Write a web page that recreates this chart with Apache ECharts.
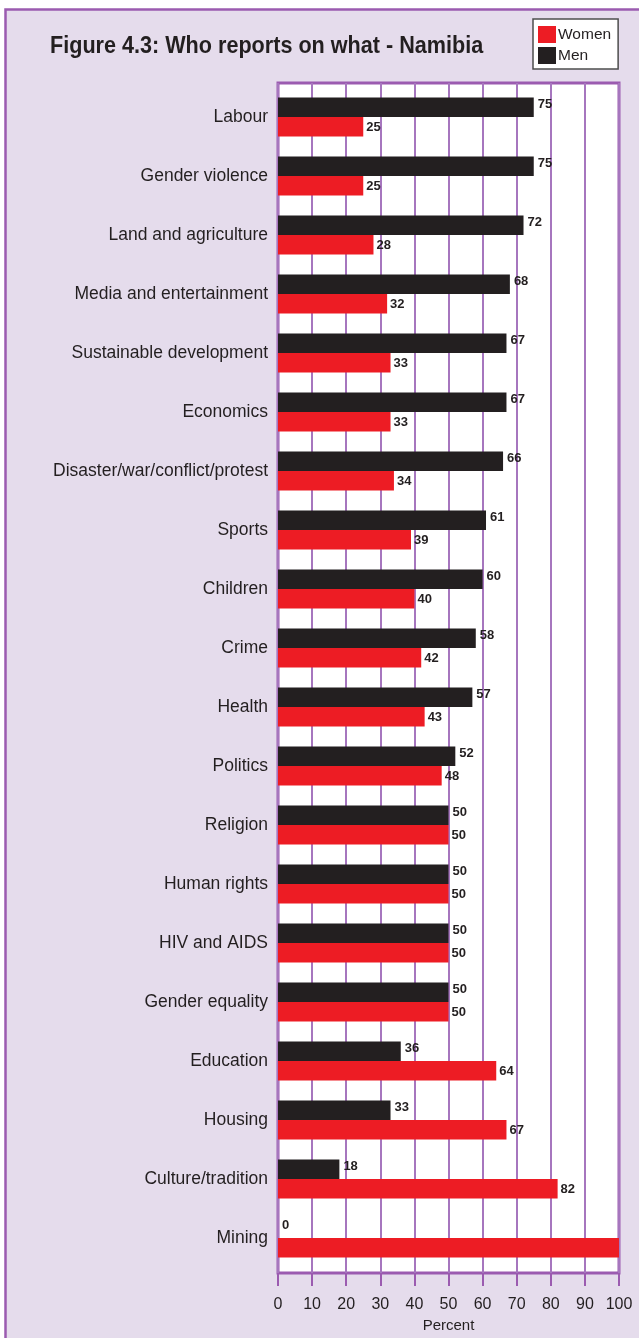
<!DOCTYPE html>
<html><head><meta charset="utf-8">
<script src="https://cdn.jsdelivr.net/npm/echarts@6/dist/echarts.min.js"></script>
<style>html,body{margin:0;padding:0;background:#fff}#c{width:639px;height:1338px}</style>
</head><body><div id="c"></div>
<script>
const categories = ["Labour","Gender violence","Land and agriculture","Media and entertainment","Sustainable development","Economics","Disaster/war/conflict/protest","Sports","Children","Crime","Health","Politics","Religion","Human rights","HIV and AIDS","Gender equality","Education","Housing","Culture/tradition","Mining"];
const menValues = [75,75,72,68,67,67,66,61,60,58,57,52,50,50,50,50,36,33,18,0];
const womenValues = [25,25,28,32,33,33,34,39,40,42,43,48,50,50,50,50,64,67,82,100];
const xTicks = [0,10,20,30,40,50,60,70,80,90,100];
const titleText = 'Figure 4.3: Who reports on what - Namibia';

const purple = '#9b5bb0';
const ink = '#231f20';
const chart = echarts.init(document.getElementById('c'), null, {renderer:'canvas'});
chart.setOption({
  backgroundColor:'#ffffff',
  animation:false,
  graphic:[
    {type:'rect', z:-10, silent:true, shape:{x:5.5,y:9.5,width:700,height:1400}, style:{fill:'#e5dcec', stroke:purple, lineWidth:2.5}},
    {type:'text', z:10, silent:true, x:50, y:46, scaleX:0.9,
      style:{text:titleText, fontFamily:'Liberation Sans, Arial', fontWeight:'bold', fontSize:24, fill:ink, textVerticalAlign:'middle', textAlign:'left'}}
  ],
  legend:{orient:'vertical', left:533, top:19, data:['Women','Men'],
    backgroundColor:'#fff', borderColor:'#4d4d4d', borderWidth:1.5, padding:[7,7,5,5],
    itemWidth:18, itemHeight:17, itemGap:4, icon:'rect',
    textStyle:{fontFamily:'Liberation Sans, Arial', fontSize:15.5, color:ink, padding:[0,0,0,-3]}},
  grid:[
    {left:278, right:20, top:83, bottom:64, show:true, backgroundColor:'#fff', borderColor:purple, borderWidth:3, z:0},
    {left:278, right:20, top:87.5, height:1180, show:false}
  ],
  xAxis:[
    {gridIndex:0, type:'value', min:0, max:100, interval:10,
      axisLine:{show:false},
      axisTick:{show:true, length:13, lineStyle:{color:purple, width:2}},
      splitLine:{show:true, lineStyle:{color:'#a676be', width:2}},
      axisLabel:{margin:24, fontFamily:'Liberation Sans, Arial', fontSize:16, color:ink,
        formatter:(v)=> xTicks.includes(v) ? String(v) : ''},
      name:'Percent', nameLocation:'middle', nameGap:45,
      nameTextStyle:{fontFamily:'Liberation Sans, Arial', fontSize:15, color:ink}},
    {gridIndex:1, type:'value', min:0, max:100, show:false}
  ],
  yAxis:[
    {gridIndex:0, type:'category', data:categories, inverse:true, show:false},
    {gridIndex:1, type:'category', data:categories, inverse:true,
      axisLine:{show:false}, axisTick:{show:false}, splitLine:{show:false},
      axisLabel:{margin:10, fontFamily:'Liberation Sans, Arial', fontSize:17.5, color:ink}}
  ],
  series:[
    {name:'Men', type:'bar', xAxisIndex:1, yAxisIndex:1, data:menValues, barWidth:19.5, barGap:'0%',
      itemStyle:{color:ink}, z:5,
      label:{show:true, position:'right', distance:4, offset:[0,-3], fontFamily:'Liberation Sans, Arial', fontWeight:'bold', fontSize:13, color:ink}},
    {name:'Women', type:'bar', xAxisIndex:1, yAxisIndex:1, barWidth:19.5, barGap:'0%',
      data:womenValues.map(v => v >= 100 ? {value:v, label:{show:false}} : v),
      itemStyle:{color:'#ed1c24'}, z:5,
      label:{show:true, position:'right', distance:3, offset:[0,1], fontFamily:'Liberation Sans, Arial', fontWeight:'bold', fontSize:13, color:ink}}
  ]
});
</script></body></html>
